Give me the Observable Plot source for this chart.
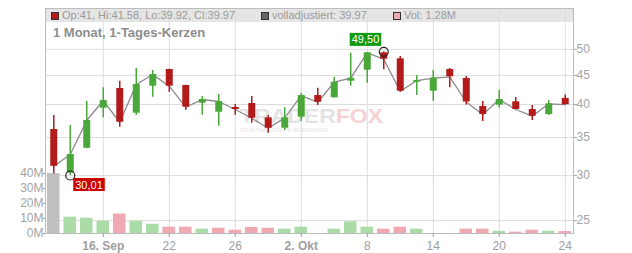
<!DOCTYPE html>
<html>
<head>
<meta charset="utf-8">
<script src="https://cdn.jsdelivr.net/npm/d3@7"></script>
<script src="https://cdn.jsdelivr.net/npm/@observablehq/plot@0.6"></script>
<style>
  html,body{margin:0;padding:0;background:#fff;}
  #wrap{position:relative;width:632px;height:253px;overflow:hidden;font-family:"Liberation Sans",Arial,sans-serif;}
  #wrap .layer{position:absolute;left:0;top:0;}
  #band{position:absolute;left:45px;top:8px;width:528px;height:14px;background:#e5e5e5;}
  .leg{position:absolute;top:8px;height:14px;line-height:14px;font-size:11px;color:#9a9a9a;white-space:nowrap;}
  .sq{position:absolute;top:12px;width:6px;height:6px;border:1px solid #333;}
  #title{position:absolute;left:53px;top:25px;font-size:13px;font-weight:bold;color:#8c8c8c;line-height:15px;white-space:nowrap;}
</style>
</head>
<body>
<div id="wrap"><div id="band"></div></div>
<script>
// ---- data ----
const opens  = [36.15, 30.29, 33.51, 39.41, 42.68, 38.62, 43.08, 46.09, 43.20, 40.21, 38.77, 39.52, 40.16, 37.90, 36.34, 38.00, 41.48, 41.10, 43.96, 45.96, 49.31, 48.13, 43.78, 42.21, 46.09, 44.44, 39.68, 39.89, 40.44, 39.20, 38.41, 41];
const highs  = [38.26, 36.74, 40.49, 42.80, 43.96, 46.28, 45.90, 46.15, 43.25, 41.32, 41.65, 40.00, 41.32, 38.26, 39.47, 41.87, 42.73, 44.68, 49.20, 49.35, 49.50, 48.58, 44.98, 45.90, 46.28, 44.80, 40.49, 42.33, 41.15, 39.84, 40.65, 41.58];
const lows   = [30.22, 30.01, 33.45, 37.90, 36.49, 38.26, 41.20, 42.04, 39.09, 38.30, 36.63, 38.30, 37.08, 35.61, 36.00, 37.34, 39.84, 41.05, 43.08, 43.60, 46.03, 42.04, 41.48, 40.54, 42.80, 39.92, 37.34, 39.41, 39.15, 37.49, 38.26, 39.92];
const closes = [31.15, 32.67, 37.49, 40.65, 37.23, 43.37, 45.16, 43.08, 39.57, 40.82, 40.49, 39.20, 37.84, 36.34, 37.90, 41.48, 40.37, 43.78, 44.50, 49.31, 48.05, 42.21, 44.08, 44.50, 44.75, 40.41, 38.41, 40.82, 39.20, 38.15, 40.11, 39.97];
const volumes = [40, 10.9, 10.2, 8.2, 13.0, 8.2, 6.2, 4.2, 4.2, 2.9, 3.5, 2.2, 4.0, 3.5, 2.9, 4.2, 0, 2.9, 7.8, 4.2, 2.9, 4.2, 2.9, 0, 0, 2.9, 2.9, 1.5, 0.9, 2.2, 1.5, 1.28]; // millions
const tickPos = [3, 7, 11, 15, 19, 23, 27, 31];
const tickLabels = ["16. Sep", "22", "26", "2. Okt", "8", "14", "20", "24"];
const priceTicks = [25, 30, 35, 40, 45, 50];
const volTicks = [0, 10, 20, 30, 40];
const titleText = "1 Monat, 1-Tages-Kerzen";

// ---- styling ----
const RED = "#b31b1b", GREEN = "#4aa83a";
const VOL_UP = "#abdca7", VOL_DOWN = "#f0a9b1", VOL_NONE = "#bfbfbf";
const FONT = "Liberation Sans, Arial, sans-serif";

const data = opens.map((o, i) => ({
  i, open: o, high: highs[i], low: lows[i], close: closes[i], vol: volumes[i],
  candle: closes[i] >= o ? GREEN : RED,
  volColor: i === 0 ? VOL_NONE : (closes[i] >= closes[i - 1] ? VOL_UP : VOL_DOWN)
}));

const W = 632, H = 253;
const common = {
  width: W, height: H, marginTop: 8, marginBottom: 20, marginLeft: 45, marginRight: 59,
  style: {background: "transparent", fontFamily: FONT, overflow: "visible"}
};
const xScale = {type: "linear", domain: [-0.5, opens.length - 0.5]};
const priceY = {type: "log", domain: [23.73, 59.0]};

const wrap = document.getElementById("wrap");
function addLayer(node) { node.classList.add("layer"); wrap.appendChild(node); return node; }

// Layer 1: grid, frame, right price axis
addLayer(Plot.plot({
  ...common,
  x: {...xScale, axis: null},
  y: {...priceY},
  marks: [
    Plot.gridY(priceTicks, {stroke: "#dcdcdc", strokeOpacity: 1}),
    Plot.gridX(tickPos, {stroke: "#dcdcdc", strokeOpacity: 1}),
    Plot.frame({stroke: "#bcbcbc"}),
    Plot.axisY(priceTicks, {anchor: "right", tickSize: 3, tickPadding: 0, fontSize: 12, color: "#a3a3a3", label: null})
  ]
}));

// Watermark
const wm = d3.create("svg").attr("width", W).attr("height", H).attr("class", "layer");
const wt = wm.append("text").attr("x", 240).attr("y", 123).attr("font-size", 21).attr("font-weight", "bold")
  .attr("font-family", FONT).attr("textLength", 143).attr("lengthAdjust", "spacingAndGlyphs");
wt.append("tspan").attr("fill", "#e3e3e3").text("TRADER");
wt.append("tspan").attr("fill", "#f6d2d2").text("FOX");
wm.append("text").attr("x", 240).attr("y", 132).attr("font-size", 6).attr("font-weight", "bold")
  .attr("font-family", FONT).attr("fill", "#e9e9e9").attr("textLength", 88).attr("lengthAdjust", "spacingAndGlyphs")
  .text("REALTIME STOCK SCREENING");
wrap.appendChild(wm.node());

// Layer 2: volume bars, left axis, x axis
const volSvg = addLayer(Plot.plot({
  ...common,
  x: {...xScale},
  y: {domain: [0, 150]},
  color: {type: "identity"},
  marks: [
    Plot.rect(data, {x1: d => d.i - 0.38, x2: d => d.i + 0.38, y1: 0, y2: "vol", fill: "volColor"}),
    Plot.axisY(volTicks, {anchor: "left", tickSize: 2, tickPadding: 0, fontSize: 12, color: "#a3a3a3", tickFormat: d => d + "M", label: null}),
    Plot.axisX(tickPos, {anchor: "bottom", tickSize: 4, tickPadding: 4, fontSize: 12, color: "#9e9e9e",
      tickFormat: d => tickLabels[tickPos.indexOf(d)], label: null})
  ]
}));
d3.select(volSvg).selectAll("text").filter(function () { return this.textContent.includes("."); })
  .attr("font-weight", "bold");

// Layer 3: close line, candles, extreme markers and labels
const lowIdx = d3.minIndex(lows), highIdx = d3.maxIndex(highs);
const fmt = v => v.toFixed(2).replace(".", ",");
const lowPt = [{i: lowIdx, v: lows[lowIdx]}];
const highPt = [{i: highIdx, v: highs[highIdx]}];
const priceSvg = addLayer(Plot.plot({
  ...common,
  x: {...xScale, axis: null},
  y: {...priceY, axis: null},
  color: {type: "identity"},
  marks: [
    Plot.line(data, {x: "i", y: "close", stroke: "#8a8a8a", strokeWidth: 1.3}),
    Plot.ruleX(data, {x: "i", y1: "low", y2: "high", stroke: "candle", strokeWidth: 1.5}),
    Plot.ruleX(data, {x: "i", y1: "open", y2: "close", stroke: "candle", strokeWidth: 7}),
    Plot.dot([...lowPt, ...highPt], {x: "i", y: "v", r: 4.5, stroke: "#222", strokeWidth: 1.2, fill: "none"}),
    Plot.text(lowPt, {x: "i", y: "v", text: d => fmt(d.v), dx: 5, dy: 9.5, textAnchor: "start", lineAnchor: "middle", fill: "white", fontSize: 11}),
    Plot.text(highPt, {x: "i", y: "v", text: d => fmt(d.v), dx: -4.5, dy: -12, textAnchor: "end", lineAnchor: "middle", fill: "white", fontSize: 11})
  ]
}));
const sb = priceSvg.getBoundingClientRect();
d3.select(priceSvg).selectAll("text").each(function () {
  const r = this.getBoundingClientRect();
  const g = this.parentNode;
  const color = this.textContent === fmt(lows[lowIdx]) ? "#cc0000" : "#119911";
  const rect = document.createElementNS("http://www.w3.org/2000/svg", "rect");
  rect.setAttribute("x", r.left - sb.left - 2);
  rect.setAttribute("y", r.top - sb.top - 0.5);
  rect.setAttribute("width", r.width + 4);
  rect.setAttribute("height", r.height + 1);
  rect.setAttribute("fill", color);
  g.parentNode.insertBefore(rect, g);
});

// Legend band items and title
const last = data[data.length - 1];
const legendItems = [
  {color: RED, text: `Op:${last.open}, Hi:${last.high}, Lo:${last.low}, Cl:${last.close}`, left: 51},
  {color: "#666666", text: `volladjustiert: ${last.close}`, left: 261},
  {color: VOL_DOWN, text: `Vol: ${last.vol}M`, left: 393}
];
legendItems.forEach(it => {
  const sq = document.createElement("div");
  sq.className = "sq"; sq.style.left = it.left + "px"; sq.style.background = it.color;
  wrap.appendChild(sq);
  const tx = document.createElement("div");
  tx.className = "leg"; tx.style.left = (it.left + 11) + "px"; tx.textContent = it.text;
  wrap.appendChild(tx);
});
const title = document.createElement("div");
title.id = "title"; title.textContent = titleText;
wrap.appendChild(title);
</script>
</body>
</html>
